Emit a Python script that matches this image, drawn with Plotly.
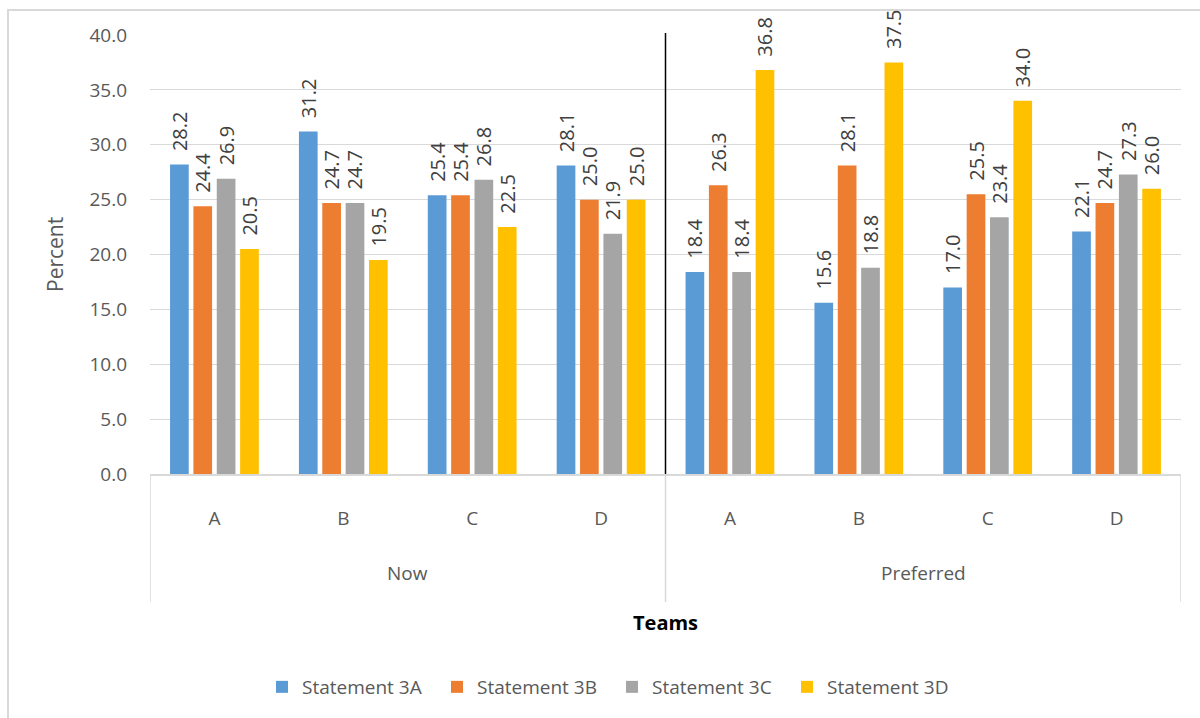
import plotly.graph_objects as go

# Team categories for the two survey periods
periods = ["Now", "Preferred"]
teams = ["A", "B", "C", "D"]

# Percent of responses per statement, teams A-D for Now then Preferred
statement_3a = [28.2, 31.2, 25.4, 28.1, 18.4, 15.6, 17.0, 22.1]
statement_3b = [24.4, 24.7, 25.4, 25.0, 26.3, 28.1, 25.5, 24.7]
statement_3c = [26.9, 24.7, 26.8, 21.9, 18.4, 18.8, 23.4, 27.3]
statement_3d = [20.5, 19.5, 22.5, 25.0, 36.8, 37.5, 34.0, 26.0]

series_names = ["Statement 3A", "Statement 3B", "Statement 3C", "Statement 3D"]
series_values = [statement_3a, statement_3b, statement_3c, statement_3d]
series_colors = ["#5B9BD5", "#ED7D31", "#A5A5A5", "#FFC000"]

y_ticks = [0, 5, 10, 15, 20, 25, 30, 35, 40]

FONT = "Open Sans"
GRAY_TEXT = "#595959"
GRID = "#D9D9D9"
NBSP = "\u00a0"

n_teams = len(teams)
positions = list(range(len(periods) * n_teams))
tick_text = teams * len(periods)

fig = go.Figure()
for name, vals, col in zip(series_names, series_values, series_colors):
    fig.add_trace(go.Bar(
        x=positions,
        y=vals,
        name=name,
        marker=dict(color=col, line=dict(width=0)),
        # leading non-breaking spaces lift the rotated label off the bar top
        text=[f"{NBSP * 2}{v:.1f}" for v in vals],
        textposition="outside",
        textangle=-90,
        constraintext="none",
        cliponaxis=False,
        textfont=dict(family=FONT, size=20, color="#404040"),
        hoverinfo="x+y+name",
    ))

# plot-area geometry in pixels, used to convert to paper coordinates
L, R, T, B = 150, 1181, 35, 474
PW, PH = R - L, B - T


def px_x(px):
    return (px - L) / PW


def px_y(py):
    return (B - py) / PH


shapes = []
# divider between the two periods inside the plot
shapes.append(dict(type="line", xref="x", yref="paper",
                   x0=n_teams - 0.5, x1=n_teams - 0.5, y0=0, y1=px_y(33),
                   line=dict(color="#000000", width=1.5)))
# category table lines below the axis
for xv in [-0.5, n_teams - 0.5, len(positions) - 0.5]:
    shapes.append(dict(type="line", xref="x", yref="paper",
                       x0=xv, x1=xv, y0=0, y1=px_y(602),
                       line=dict(color=GRID, width=1.5)))
# chart-area frame
shapes.append(dict(type="rect", xref="paper", yref="paper",
                   x0=px_x(8), x1=px_x(1215), y0=px_y(10), y1=px_y(725),
                   line=dict(color=GRID, width=2), fillcolor="rgba(0,0,0,0)",
                   layer="below"))

annotations = []
for i, p in enumerate(periods):
    annotations.append(dict(
        x=i * n_teams + (n_teams - 1) / 2, xref="x",
        y=px_y(573), yref="paper", text=p, showarrow=False,
        font=dict(family=FONT, size=19, color=GRAY_TEXT),
        xanchor="center", yanchor="middle"))
annotations.append(dict(
    x=n_teams - 0.5, xref="x", y=px_y(622), yref="paper",
    text="<b>Teams</b>", showarrow=False,
    font=dict(family=FONT, size=20, color="#000000"),
    xanchor="center", yanchor="middle"))
annotations.append(dict(
    x=px_x(55), xref="paper", y=px_y(255), yref="paper",
    text="Percent", textangle=-90, showarrow=False,
    font=dict(family=FONT, size=21, color=GRAY_TEXT),
    xanchor="center", yanchor="middle"))

fig.update_layout(
    width=1200, height=718,
    margin=dict(l=L, r=1200 - R, t=T, b=718 - B, pad=0),
    paper_bgcolor="#FFFFFF", plot_bgcolor="#FFFFFF",
    barmode="group", bargap=0.275, bargroupgap=0.2,
    showlegend=True,
    legend=dict(orientation="h", x=px_x(612), xanchor="center",
                y=px_y(687), yanchor="middle",
                font=dict(family=FONT, size=19, color=GRAY_TEXT),
                entrywidth=130, itemwidth=30,
                bgcolor="rgba(0,0,0,0)"),
    shapes=shapes,
    annotations=annotations,
    xaxis=dict(
        tickmode="array", tickvals=positions, ticktext=tick_text,
        range=[-0.5, len(positions) - 0.5],
        showgrid=False, zeroline=False,
        showline=True, linecolor=GRID, linewidth=1.5,
        ticks="", ticklabelstandoff=26,
        tickfont=dict(family=FONT, size=19, color=GRAY_TEXT),
    ),
    yaxis=dict(
        range=[0, 40], tickmode="array", tickvals=y_ticks,
        tickformat=".1f",
        showgrid=True, gridcolor=GRID, gridwidth=1,
        zeroline=False, showline=False,
        ticks="", ticklabelstandoff=22,
        tickfont=dict(family=FONT, size=19, color=GRAY_TEXT),
    ),
    font=dict(family=FONT),
)

fig.write_html("out.html")
